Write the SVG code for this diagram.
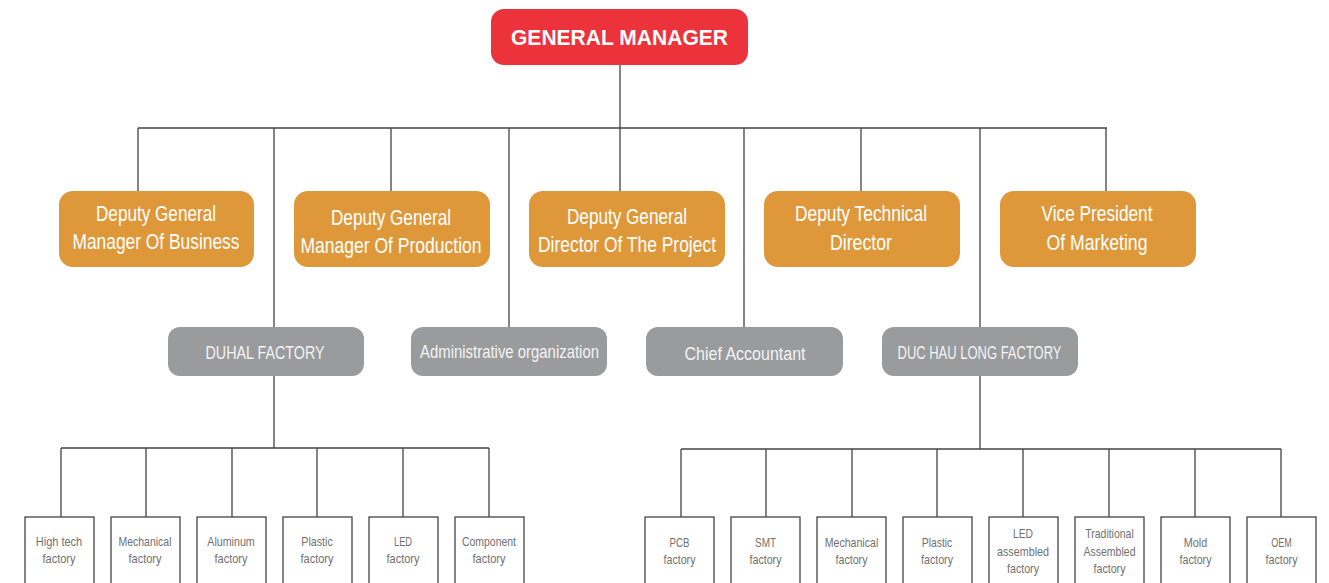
<svg xmlns="http://www.w3.org/2000/svg" width="1329" height="583" viewBox="0 0 1329 583">
<style>
.bg{fill:#ffffff}
.ln{stroke:#444446;stroke-width:1.3;fill:none}
.gm{fill:#ec323a}
.or{fill:#de983a}
.gr{fill:#9a9b9d}
.fb{fill:#ffffff;stroke:#444446;stroke-width:1.3}
.t{font-family:"Liberation Sans Narrow","Liberation Sans",Arial,sans-serif;text-anchor:middle}
.tgm{font-family:"Liberation Sans",Arial,sans-serif;font-weight:bold;font-size:22px;fill:#ffffff;text-anchor:middle}
.tor{font-size:21.5px;fill:#ffffff}
.tgr{font-size:19px;fill:#f4f4f4}
.tf{font-size:13.3px;fill:#707072}
</style>
<rect class="bg" x="0" y="0" width="1329" height="583"/>
<g id="connectors">
<path class="ln" d="M620 65V191M138 128H1107M138 128V191M391 128V191M861 128V191M1106 128V191M274 128V327M509 128V327M744 128V327M980 128V327"/>
<path class="ln" d="M274 376V448M61 448H489M61 448V517M146 448V517M232 448V517M317 448V517M403 448V517M489 448V517"/>
<path class="ln" d="M980 376V449M681 449H1281M681 449V517M766 449V517M852 449V517M937 449V517M1023 449V517M1109 449V517M1195 449V517M1281 449V517"/>
</g>
<g id="general-manager">
<rect class="gm" x="491" y="9" width="257" height="56" rx="13"/>
<text class="tgm" x="619.5" y="45.3" textLength="217" lengthAdjust="spacingAndGlyphs">GENERAL MANAGER</text>
</g>
<g id="deputy-business">
<rect class="or" x="59" y="191" width="195" height="76" rx="14"/>
<text class="t tor" x="156" y="220.5" textLength="120" lengthAdjust="spacingAndGlyphs">Deputy General</text>
<text class="t tor" x="156" y="249" textLength="167" lengthAdjust="spacingAndGlyphs">Manager Of Business</text>
</g>
<g id="deputy-production">
<rect class="or" x="294" y="191" width="196" height="76" rx="14"/>
<text class="t tor" x="391" y="224.5" textLength="120" lengthAdjust="spacingAndGlyphs">Deputy General</text>
<text class="t tor" x="391" y="253" textLength="181" lengthAdjust="spacingAndGlyphs">Manager Of Production</text>
</g>
<g id="deputy-project">
<rect class="or" x="529" y="191" width="196" height="76" rx="14"/>
<text class="t tor" x="627" y="223.5" textLength="120" lengthAdjust="spacingAndGlyphs">Deputy General</text>
<text class="t tor" x="627" y="252" textLength="178" lengthAdjust="spacingAndGlyphs">Director Of The Project</text>
</g>
<g id="deputy-technical">
<rect class="or" x="764" y="191" width="196" height="76" rx="14"/>
<text class="t tor" x="861" y="221" textLength="132" lengthAdjust="spacingAndGlyphs">Deputy Technical</text>
<text class="t tor" x="861" y="250" textLength="62" lengthAdjust="spacingAndGlyphs">Director</text>
</g>
<g id="vp-marketing">
<rect class="or" x="1000" y="191" width="196" height="76" rx="14"/>
<text class="t tor" x="1097" y="221" textLength="111" lengthAdjust="spacingAndGlyphs">Vice President</text>
<text class="t tor" x="1097" y="250" textLength="101" lengthAdjust="spacingAndGlyphs">Of Marketing</text>
</g>
<g id="duhal-factory">
<rect class="gr" x="168" y="327" width="196" height="49" rx="12"/>
<text class="t tgr" x="265" y="359" textLength="119" lengthAdjust="spacingAndGlyphs">DUHAL FACTORY</text>
</g>
<g id="administrative-organization">
<rect class="gr" x="411" y="327" width="196" height="49" rx="12"/>
<text class="t tgr" x="509.5" y="357.5" textLength="179" lengthAdjust="spacingAndGlyphs">Administrative organization</text>
</g>
<g id="chief-accountant">
<rect class="gr" x="646" y="327" width="197" height="49" rx="12"/>
<text class="t tgr" x="745" y="359.5" textLength="121" lengthAdjust="spacingAndGlyphs">Chief Accountant</text>
</g>
<g id="duc-hau-long-factory">
<rect class="gr" x="882" y="327" width="196" height="49" rx="12"/>
<text class="t tgr" x="979.5" y="359" textLength="164" lengthAdjust="spacingAndGlyphs">DUC HAU LONG FACTORY</text>
</g>
<g id="high-tech-factory">
<rect class="fb" x="25" y="517" width="69" height="80"/>
<text class="t tf" x="59" y="546" textLength="46.5" lengthAdjust="spacingAndGlyphs">High tech</text>
<text class="t tf" x="59" y="563" textLength="33" lengthAdjust="spacingAndGlyphs">factory</text>
</g>
<g id="mechanical-factory-1">
<rect class="fb" x="111" y="517" width="69" height="80"/>
<text class="t tf" x="145" y="546" textLength="53" lengthAdjust="spacingAndGlyphs">Mechanical</text>
<text class="t tf" x="145" y="563" textLength="33" lengthAdjust="spacingAndGlyphs">factory</text>
</g>
<g id="aluminum-factory">
<rect class="fb" x="197" y="517" width="69" height="80"/>
<text class="t tf" x="231" y="546" textLength="47.5" lengthAdjust="spacingAndGlyphs">Aluminum</text>
<text class="t tf" x="231" y="563" textLength="33" lengthAdjust="spacingAndGlyphs">factory</text>
</g>
<g id="plastic-factory-1">
<rect class="fb" x="283" y="517" width="69" height="80"/>
<text class="t tf" x="317" y="546" textLength="31.5" lengthAdjust="spacingAndGlyphs">Plastic</text>
<text class="t tf" x="317" y="563" textLength="33" lengthAdjust="spacingAndGlyphs">factory</text>
</g>
<g id="led-factory">
<rect class="fb" x="369" y="517" width="69" height="80"/>
<text class="t tf" x="403" y="546" textLength="18" lengthAdjust="spacingAndGlyphs">LED</text>
<text class="t tf" x="403" y="563" textLength="33" lengthAdjust="spacingAndGlyphs">factory</text>
</g>
<g id="component-factory">
<rect class="fb" x="455" y="517" width="69" height="80"/>
<text class="t tf" x="489" y="546" textLength="54" lengthAdjust="spacingAndGlyphs">Component</text>
<text class="t tf" x="489" y="563" textLength="33" lengthAdjust="spacingAndGlyphs">factory</text>
</g>
<g id="pcb-factory">
<rect class="fb" x="645" y="517" width="69" height="80"/>
<text class="t tf" x="679.5" y="547" textLength="20" lengthAdjust="spacingAndGlyphs">PCB</text>
<text class="t tf" x="679.5" y="564" textLength="32" lengthAdjust="spacingAndGlyphs">factory</text>
</g>
<g id="smt-factory">
<rect class="fb" x="731" y="517" width="69" height="80"/>
<text class="t tf" x="765.5" y="547" textLength="21" lengthAdjust="spacingAndGlyphs">SMT</text>
<text class="t tf" x="765.5" y="564" textLength="32" lengthAdjust="spacingAndGlyphs">factory</text>
</g>
<g id="mechanical-factory-2">
<rect class="fb" x="817" y="517" width="69" height="80"/>
<text class="t tf" x="851.5" y="547" textLength="53.5" lengthAdjust="spacingAndGlyphs">Mechanical</text>
<text class="t tf" x="851.5" y="564" textLength="32" lengthAdjust="spacingAndGlyphs">factory</text>
</g>
<g id="plastic-factory-2">
<rect class="fb" x="903" y="517" width="69" height="80"/>
<text class="t tf" x="937" y="547" textLength="30.5" lengthAdjust="spacingAndGlyphs">Plastic</text>
<text class="t tf" x="937" y="564" textLength="32" lengthAdjust="spacingAndGlyphs">factory</text>
</g>
<g id="led-assembled-factory">
<rect class="fb" x="989" y="517" width="69" height="80"/>
<text class="t tf" x="1023" y="537.5" textLength="20" lengthAdjust="spacingAndGlyphs">LED</text>
<text class="t tf" x="1023" y="555.5" textLength="52" lengthAdjust="spacingAndGlyphs">assembled</text>
<text class="t tf" x="1023" y="572.5" textLength="32" lengthAdjust="spacingAndGlyphs">factory</text>
</g>
<g id="traditional-assembled-factory">
<rect class="fb" x="1075" y="517" width="69" height="80"/>
<text class="t tf" x="1109.5" y="537.5" textLength="48.5" lengthAdjust="spacingAndGlyphs">Traditional</text>
<text class="t tf" x="1109.5" y="555.5" textLength="52" lengthAdjust="spacingAndGlyphs">Assembled</text>
<text class="t tf" x="1109.5" y="572.5" textLength="32" lengthAdjust="spacingAndGlyphs">factory</text>
</g>
<g id="mold-factory">
<rect class="fb" x="1161" y="517" width="69" height="80"/>
<text class="t tf" x="1195.5" y="547" textLength="23.5" lengthAdjust="spacingAndGlyphs">Mold</text>
<text class="t tf" x="1195.5" y="564" textLength="32" lengthAdjust="spacingAndGlyphs">factory</text>
</g>
<g id="oem-factory">
<rect class="fb" x="1247" y="517" width="69" height="80"/>
<text class="t tf" x="1281.5" y="547" textLength="20.5" lengthAdjust="spacingAndGlyphs">OEM</text>
<text class="t tf" x="1281.5" y="564" textLength="32" lengthAdjust="spacingAndGlyphs">factory</text>
</g>
</svg>
